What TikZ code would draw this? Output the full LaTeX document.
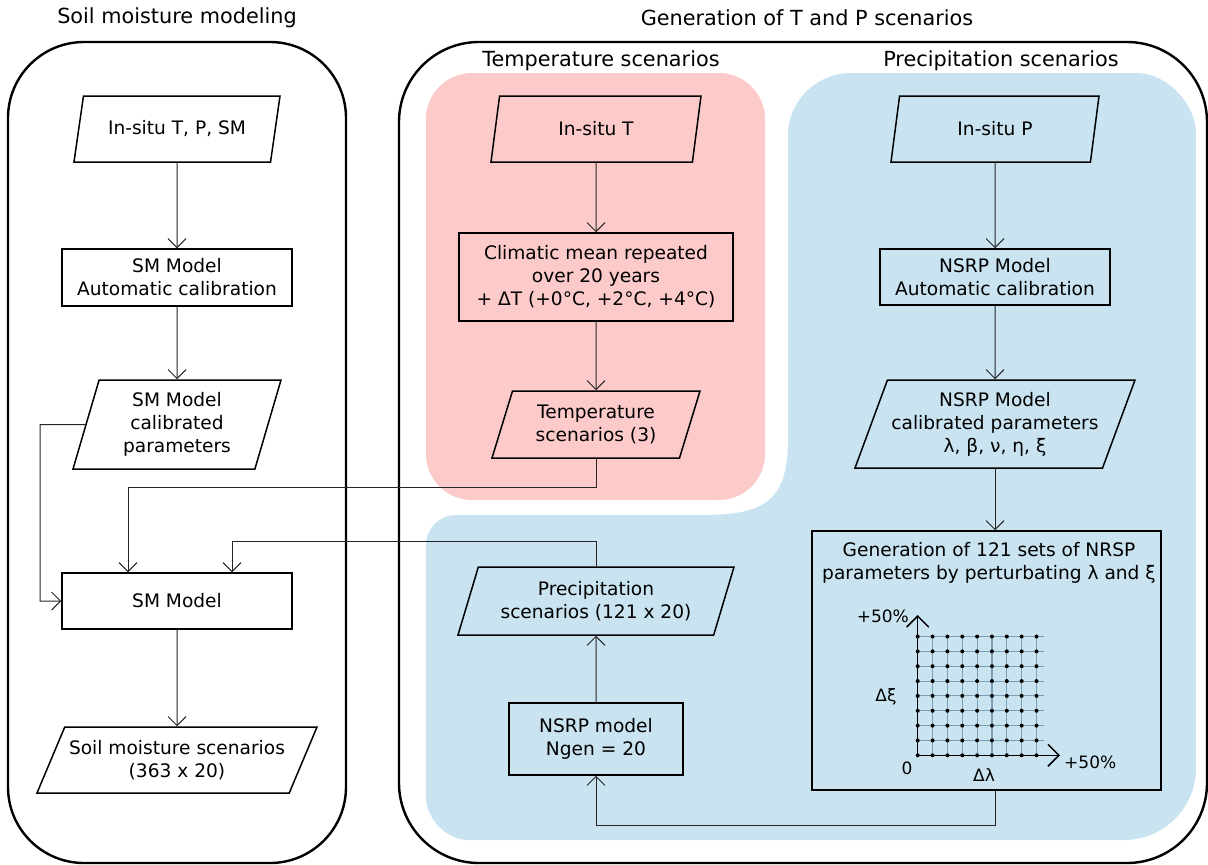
\documentclass[tikz,border=0pt]{standalone}
\usepackage{fontspec}
\setmainfont{DejaVu Sans}
\usetikzlibrary{shapes.geometric,arrows.meta,calc}
\definecolor{pinkreg}{RGB}{253,202,202}
\definecolor{bluereg}{RGB}{201,228,240}
\definecolor{gridc}{RGB}{128,158,178}
\newcommand\bxf{\fontsize{18.6}{23}\selectfont}
\newcommand\ttlf{\fontsize{20.8}{25}\selectfont}
\newcommand\axf{\fontsize{17}{20}\selectfont}
\begin{document}
\begin{tikzpicture}[x=1pt,y=-1pt,
  frame/.style={draw=black,line width=2.4pt},
  stepbox/.style={draw=black,line width=1.5pt,rectangle,align=center,font=\bxf,inner sep=2pt},
  para/.style 2 args={trapezium,trapezium left angle=#1,trapezium right angle=#2,
     trapezium stretches body,draw=black,line width=1.5pt,align=center,font=\bxf,inner sep=2pt},
  conn/.style={draw=black!85,line width=1pt,-{Straight Barb[length=9pt,width=18pt]}},
  axis/.style={draw=black,line width=1.5pt,-{Straight Barb[length=11pt,width=22pt]}},
  ttl/.style={font=\ttlf,inner sep=0pt},
  lbl/.style={font=\axf,inner sep=0pt}]
\useasboundingbox (0,0) rectangle (1208,865);

% regions
\fill[pinkreg,rounded corners=46pt] (426,73) rectangle (765,500);
\fill[bluereg] (788,440) -- (788,135)
  .. controls (788,100.8) and (816.8,73) .. (851,73)
  -- (1136,73) .. controls (1169.1,73) and (1196,106.1) .. (1196,133)
  -- (1196,768) .. controls (1196,807.8) and (1163.8,840) .. (1124,840)
  -- (468,840) .. controls (444.8,840) and (426,816.8) .. (426,798)
  -- (426,545) .. controls (426,528.4) and (439.4,515) .. (456,515)
  -- (700,515) .. controls (760,515) and (788,505) .. (788,440) -- cycle;

% frames
\draw[frame,rounded corners=76pt] (8,42) rectangle (346,863);
\draw[frame,rounded corners=80pt] (399,42) rectangle (1207,863);

% titles
\node[ttl] (t1) at (177,18) {Soil moisture modeling};
\node[ttl] (t2) at (807,18) {Generation of T and P scenarios};
\node[ttl] (t3) at (601,61) {Temperature scenarios};
\node[ttl] (t4) at (1001,61) {Precipitation scenarios};

% left column
\node[para={65}{115},minimum width=206pt,minimum height=66pt] (p1) at (177,129) {In-situ T, P, SM};
\node[stepbox,minimum width=230pt,minimum height=57pt] (r1) at (177,277.5) {SM Model\\Automatic calibration};
\node[para={69}{111},minimum width=208pt,minimum height=89pt] (p2) at (177,424.5) {SM Model\\calibrated\\parameters};
\node[stepbox,minimum width=230pt,minimum height=56pt] (r2) at (177,601) {SM Model};
\node[para={57.5}{122.5},minimum width=280pt,minimum height=66pt] (p3) at (177,760) {Soil moisture scenarios\\(363 x 20)};

% temperature column
\node[para={65}{115},minimum width=210pt,minimum height=66pt] (tp1) at (596,129) {In-situ T};
\node[stepbox,minimum width=274pt,minimum height=88pt] (tr1) at (596,277) {Climatic mean repeated\\over 20 years\\+ ΔT (+0°C, +2°C, +4°C)};
\node[para={64.5}{115.5},minimum width=208pt,minimum height=67pt] (tp2) at (596,424.5) {Temperature\\scenarios (3)};

% precipitation column
\node[para={65}{115},minimum width=208pt,minimum height=66pt] (pp1) at (995,129) {In-situ P};
\node[stepbox,minimum width=230pt,minimum height=56pt] (pr1) at (995,277) {NSRP Model\\Automatic calibration};
\node[para={64.5}{115.5},minimum width=280pt,minimum height=88pt] (pp2) at (995,424) {NSRP Model\\calibrated parameters\\λ, β, ν, η, ξ};
\node[stepbox,minimum width=349pt,minimum height=259pt] (big) at (986.5,660.5) {};
\node[font=\bxf,align=center,inner sep=0pt] (bigt) at (989,563) {Generation of 121 sets of NRSP\\parameters by perturbating λ and ξ};
\node[stepbox,minimum width=174pt,minimum height=72pt] (ng) at (596,739) {NSRP model\\Ngen = 20};
\node[para={65}{115},minimum width=276pt,minimum height=68pt] (ps) at (596,601) {Precipitation\\scenarios (121 x 20)};

% grid
\coordinate (O) at (917.7,755.3);
\foreach \j in {1,...,8} {
  \draw[gridc,line width=1.1pt] ($(O)+(0,-\j*14.85)$) -- ($(O)+(126.5,-\j*14.85)$);
}
\foreach \i in {1,...,8} {
  \draw[gridc,line width=1.1pt] ($(O)+(\i*14.85,0)$) -- ($(O)+(\i*14.85,-120.8)$);
}
\coordinate (xa) at (1060,755.3);
\coordinate (ya) at (917.7,615);
\draw[axis] (O) -- (xa);
\draw[axis] (O) -- (ya);
\foreach \i in {0,...,8} {
  \foreach \j in {0,...,8} {
    \fill[black] ($(O)+(\i*14.85,-\j*14.85)$) circle (2pt);
  }
}
\node[lbl,anchor=east] (l50y) at (909,616) {+50\%};
\node[lbl] (lxi) at (886,697) {Δξ};
\node[lbl] (l0) at (907,768) {0};
\node[lbl] (llam) at (984,775) {Δλ};
\node[lbl,anchor=west] (l50x) at (1064,762) {+50\%};

% connectors, left
\draw[conn] (p1.south) -- (r1.north);
\draw[conn] (r1.south) -- (p2.north);
\draw[conn] (r2.south) -- (p3.north);
\coordinate (lp) at (40,424.5);
\draw[conn] (p2.west) -- (lp) |- (r2.west);

% temperature
\draw[conn] (tp1.south) -- (tr1.north);
\draw[conn] (tr1.south) -- (tp2.north);
\coordinate (tj) at (128,487);
\draw[conn] (tp2.south) |- (tj) -- (tj |- r2.north);

% precipitation
\draw[conn] (pp1.south) -- (pr1.north);
\draw[conn] (pr1.south) -- (pp2.north);
\draw[conn] (pp2.south) -- (big.north -| pp2.south);
\coordinate (bj) at (596,825);
\draw[conn] (big.south -| pp2.south) |- (bj) -- (ng.south);
\draw[conn] (ng.north) -- (ps.south);
\coordinate (pj) at (232,541);
\draw[conn] (ps.north) |- (pj) -- (pj |- r2.north);
\end{tikzpicture}
\end{document}
